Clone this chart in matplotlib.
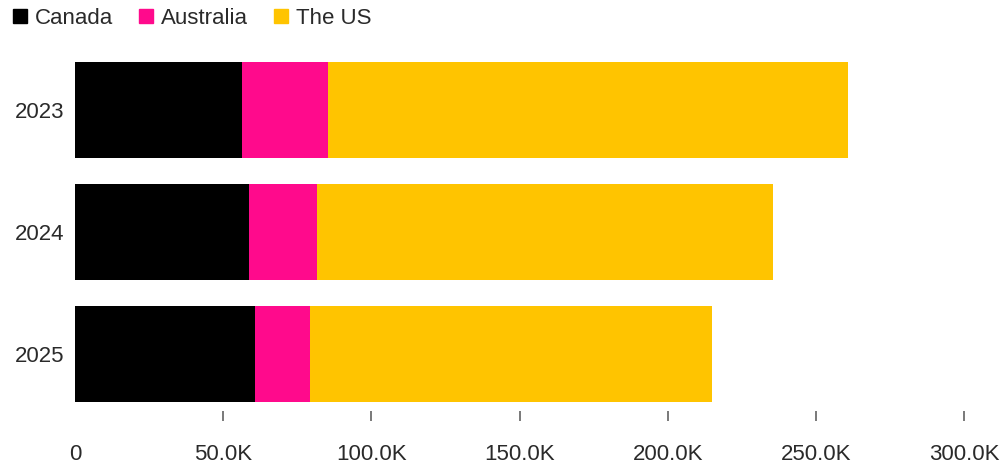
import matplotlib
matplotlib.use('Agg')
import matplotlib.pyplot as plt
from matplotlib.lines import Line2D

plt.rcParams['font.family'] = ['Liberation Sans', 'DejaVu Sans']

years = ['2023', '2024', '2025']
canada = [56.3, 58.8, 60.7]
australia = [29.0, 22.8, 18.6]
us = [175.7, 153.9, 135.6]
series_names = ['Canada', 'Australia', 'The US']
colors = ['#000000', '#ff0a8c', '#ffc400']
xticks = [0, 50, 100, 150, 200, 250, 300]
xticklabels = ['0', '50.0K', '100.0K', '150.0K', '200.0K', '250.0K', '300.0K']

W, H = 1003, 471
fig = plt.figure(figsize=(W / 100, H / 100), dpi=100)
# axes placed in pixel terms
left, right, top, bottom = 75, 964, 40, 411
ax = fig.add_axes([left / W, 1 - bottom / H, (right - left) / W, (bottom - top) / H])

pos = list(range(len(years)))
lefts = [0] * len(years)
for vals, c in zip([canada, australia, us], colors):
    ax.barh(pos, vals, left=lefts, height=0.79, color=c, edgecolor='none')
    lefts = [a + b for a, b in zip(lefts, vals)]

ax.set_xlim(0, 300)
ax.set_ylim(2.47, -0.572)
ax.set_yticks(pos)
ax.set_yticklabels(years)
ax.set_xticks(xticks)
ax.set_xticklabels(xticklabels)

for s in ax.spines.values():
    s.set_visible(False)

txt = '#2a2a2a'
ax.tick_params(axis='y', length=0, pad=8, labelsize=16, labelcolor=txt)
ax.tick_params(axis='x', direction='out', length=7, width=1.1, color='#555555',
               pad=17, labelsize=16, labelcolor=txt)
# no tick mark at zero
ax.xaxis.get_major_ticks()[0].tick1line.set_visible(False)

handles = [Line2D([], [], marker='s', linestyle='none', markersize=10,
                  markerfacecolor=c, markeredgecolor=c) for c in colors]
fig.legend(handles, series_names, loc='upper left', bbox_to_anchor=(-0.008, 1.025),
           ncol=3, frameon=False, fontsize=16, handlelength=0.7,
           handletextpad=0.35, columnspacing=1.1, labelcolor=txt)

fig.savefig('out.png', dpi=100)
